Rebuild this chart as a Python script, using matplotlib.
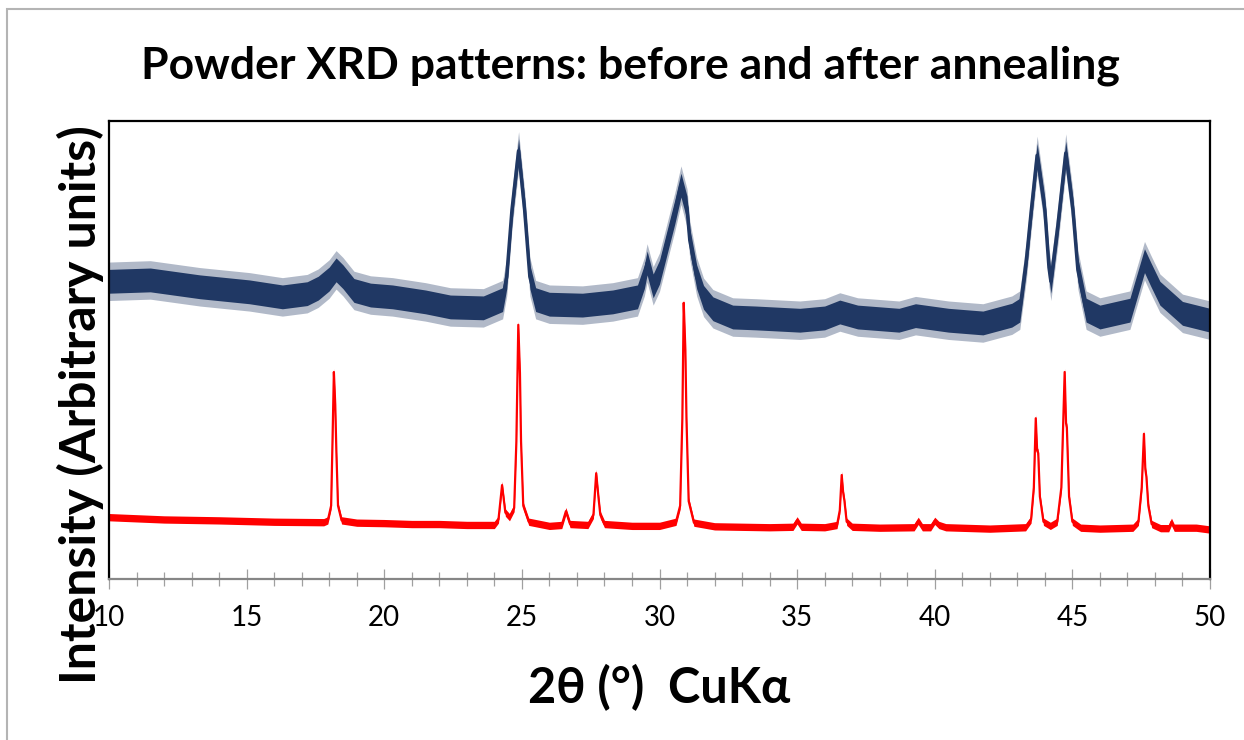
import matplotlib
matplotlib.use("Agg")
import matplotlib.pyplot as plt
from matplotlib.patches import Rectangle
from matplotlib.ticker import MultipleLocator

# ── data (2θ in degrees, intensity in arbitrary units) ──
before_x = [10.0, 11.5, 13.3, 15.1, 16.3, 17.2, 17.6, 18.0, 18.25, 18.5, 18.9, 19.5,
            20.3, 21.5, 22.4, 23.6, 24.3, 24.45, 24.64, 24.88, 25.1, 25.29, 25.5, 26.0,
            27.2, 28.3, 29.2, 29.45, 29.55, 29.77, 30.0, 30.27, 30.55, 30.78, 31.0, 31.1,
            31.35, 31.6, 31.94, 32.66, 33.5, 35.1, 36.0, 36.55, 37.2, 38.7, 39.3, 40.5,
            41.75, 42.8, 43.09, 43.33, 43.51, 43.72, 44.0, 44.15, 44.22, 44.47, 44.76,
            45.02, 45.2, 45.5, 46.0, 47.09, 47.35, 47.62, 47.85, 48.18, 49.0, 50.0]
before_y = [65.0, 65.3, 63.8, 62.7, 61.6, 62.3, 63.5, 65.5, 67.5, 66.0, 63.0, 62.0,
            61.6, 60.5, 59.4, 59.2, 61.0, 66.0, 80.6, 93.5, 80.6, 66.0, 61.0, 60.0,
            59.8, 60.5, 61.6, 66.0, 69.0, 64.0, 67.0, 73.4, 80.0, 86.0, 81.0, 74.0,
            66.0, 61.5, 59.0, 57.2, 57.0, 56.5, 57.0, 58.3, 57.2, 56.5, 57.5, 56.5,
            55.9, 57.6, 58.7, 69.7, 80.6, 92.5, 80.6, 68.0, 65.0, 77.0, 93.0,
            80.6, 67.5, 58.7, 57.2, 58.7, 64.0, 69.5, 66.5, 62.4, 58.0, 56.5]

after_x = [10.0, 12.0, 14.0, 16.0, 17.8, 17.95, 18.07, 18.12, 18.17, 18.22, 18.26, 18.32,
           18.45, 19.0, 20.0, 21.0, 22.0, 23.0, 24.0, 24.15, 24.28, 24.4, 24.55, 24.72,
           24.8, 24.87, 24.93, 24.97, 25.05, 25.25, 26.0, 26.45, 26.6, 26.75, 27.4, 27.6,
           27.7, 27.78, 27.85, 28.0, 29.0, 30.0, 30.6, 30.75, 30.83, 30.88, 30.94, 30.98,
           31.06, 31.25, 32.0, 34.0, 34.85, 35.0, 35.15, 36.0, 36.45, 36.55, 36.62, 36.67,
           36.72, 36.8, 37.0, 38.0, 39.25, 39.4, 39.55, 39.85, 40.0, 40.15, 40.4, 42.0,
           43.3, 43.5, 43.6, 43.67, 43.72, 43.76, 43.82, 43.95, 44.2, 44.45, 44.6, 44.72,
           44.77, 44.8, 44.88, 45.0, 45.3, 46.0, 47.2, 47.4, 47.52, 47.6, 47.65, 47.69,
           47.76, 47.88, 48.2, 48.5, 48.6, 48.7, 49.5, 50.0]
after_y = [13.5, 13.0, 12.8, 12.5, 12.4, 12.8, 16.0, 30.0, 45.2, 38.0, 28.0, 16.0,
           12.8, 12.3, 12.2, 12.0, 12.0, 11.8, 11.8, 13.0, 20.5, 14.5, 13.5, 15.5,
           30.0, 55.5, 45.0, 30.0, 16.0, 12.5, 11.6, 11.8, 14.8, 12.0, 11.8, 14.0,
           23.1, 18.0, 14.0, 12.0, 11.6, 11.6, 12.5, 16.0, 35.0, 60.3, 50.0, 35.0,
           17.0, 12.3, 11.5, 11.3, 11.4, 12.8, 11.4, 11.3, 11.8, 15.0, 22.7, 19.0,
           17.0, 12.5, 11.4, 11.2, 11.3, 12.7, 11.3, 11.3, 12.7, 11.8, 11.3, 11.0,
           11.3, 13.0, 20.0, 35.1, 28.0, 27.5, 18.0, 12.5, 11.6, 12.5, 20.0, 45.2,
           34.0, 33.0, 18.0, 12.5, 11.2, 11.0, 11.2, 12.5, 20.0, 31.7, 24.0, 22.3,
           16.0, 12.0, 11.1, 11.1, 12.5, 11.2, 11.2, 10.8]

# half-width of the noise band around each trace (solid core, fainter spikes)
before_noise = 2.6
before_spikes = 4.2
after_noise = 0.8

BLUE = "#203864"
RED = "#FF0000"
FONT = ["Lato", "DejaVu Sans"]

fig = plt.figure(figsize=(12.44, 7.4), dpi=100)
fig.patches.append(Rectangle((7 / 1244, -0.1), 1.2, 1 - 9 / 740 + 0.1, transform=fig.transFigure,
                             fill=False, edgecolor="#b4b4b4", linewidth=1.5))

ax = fig.add_axes([109 / 1244, 161 / 740, 1101 / 1244, 458 / 740])

# noisy traces drawn as a band around the read centre line
ax.fill_between(before_x, [v - before_spikes for v in before_y],
                [v + before_spikes for v in before_y], color=BLUE, alpha=0.35, linewidth=0)
ax.fill_between(before_x, [v - before_noise for v in before_y],
                [v + before_noise for v in before_y], color=BLUE, linewidth=0)
ax.plot(before_x, before_y, color=BLUE, linewidth=2.5)
ax.fill_between(after_x, [v - after_noise for v in after_y],
                [v + after_noise for v in after_y], color=RED, linewidth=0)
ax.plot(after_x, after_y, color=RED, linewidth=1.6)

ax.set_xlim(10, 50)
ax.set_ylim(0, 100)
ax.xaxis.set_major_locator(MultipleLocator(5))
ax.xaxis.set_minor_locator(MultipleLocator(1))
ax.set_yticks([])

for side in ["left", "top", "right"]:
    ax.spines[side].set_color("black")
    ax.spines[side].set_linewidth(1.6)
ax.spines["bottom"].set_color("#868686")
ax.spines["bottom"].set_linewidth(1.6)

ax.tick_params(axis="x", which="major", direction="inout", length=14, width=0.9,
               color="#a0a0a0", pad=12, labelsize=20)
ax.tick_params(axis="x", which="minor", direction="inout", length=10, width=0.9,
               color="#a0a0a0")
for lab in ax.get_xticklabels():
    lab.set_family(FONT)

fig.text(630 / 1244, 1 - 66 / 740, "Powder XRD patterns: before and after annealing",
         ha="center", va="center", fontsize=32, fontweight="bold", family=FONT)
fig.text(659 / 1244, 1 - 688 / 740, "2θ (°)  CuKα", ha="center", va="center",
         fontsize=35, fontweight="bold", family=FONT)
fig.text(80 / 1244, 1 - 405 / 740, "Intensity (Arbitrary units)", ha="center", va="center",
         rotation=90, fontsize=36, fontweight="bold", family=FONT)

fig.savefig("out.png", dpi=100)
